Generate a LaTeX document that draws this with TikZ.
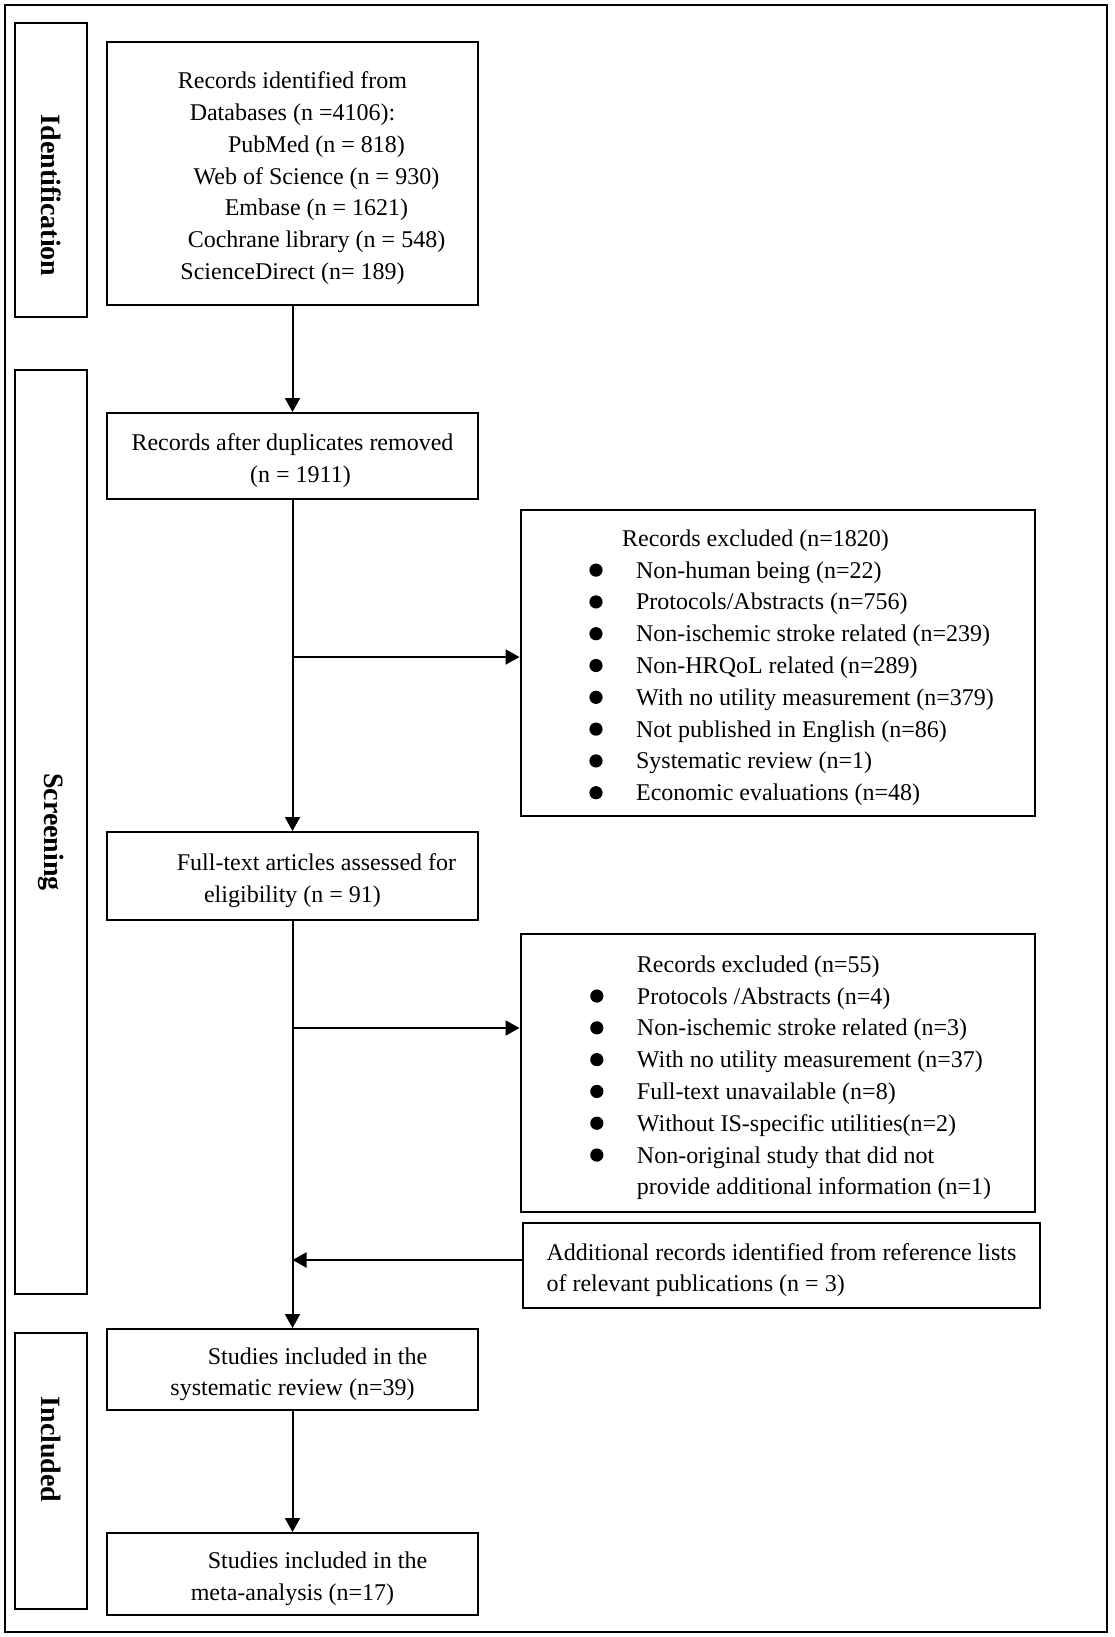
\documentclass[tikz,border=0pt]{standalone}
\usepackage{fontspec}
\setmainfont{Liberation Serif}
\usetikzlibrary{positioning,arrows.meta}

\newcommand{\bigdot}{\makebox[23.35pt][l]{\tikz[baseline=-4pt]\fill (0,0) circle (3.3pt);}}

\begin{document}
\begin{tikzpicture}[x=0.5pt,y=-0.5pt,
    box/.style={draw,line width=1pt,inner sep=0pt,text height=15.3pt,font=\fontsize{12}{15.9}\selectfont},
    side/.style={draw,line width=1pt,rotate=-90,minimum height=36pt,font=\bfseries\fontsize{14}{16}\selectfont},
    arr/.style={line width=1pt,-{Triangle[length=7pt,width=7.5pt]}}]
  \useasboundingbox (0,0) rectangle (1114,1637);
  \draw[line width=1.4pt] (5,5) rectangle (1107,1632);

  % stage labels
  \node[side,minimum width=147pt] (ident) at (51,170) {\hspace*{25.5pt}Identification};
  \node[side,minimum width=462pt] (screen) at (51,832) {Screening};
  \node[side,minimum width=138pt] (incl) at (51,1471) {Included\hspace*{21.5pt}};

  % main column
  \node[box,minimum width=185.5pt,minimum height=131.5pt] (recs) at (292.5,173.5)
    {\begin{tabular}[t]{@{}c@{}}
       Records identified from\\Databases (n =4106):\\\hspace*{24pt}PubMed (n = 818)\\
       \hspace*{24pt}Web of Science (n = 930)\\\hspace*{24pt}Embase (n = 1621)\\
       \hspace*{24pt}Cochrane library (n = 548)\\ScienceDirect (n= 189)
     \end{tabular}};
  \node[box,minimum width=185.5pt,minimum height=43pt] (dedup) at (292.5,456)
    {\begin{tabular}[t]{@{}c@{}}Records after duplicates removed\\\hspace*{8pt}(n = 1911)\end{tabular}};
  \node[box,minimum width=185.5pt,minimum height=44pt] (full) at (292.5,876)
    {\begin{tabular}[t]{@{}c@{}}\hspace*{24pt}Full-text articles assessed for\\eligibility (n = 91)\end{tabular}};
  \node[box,minimum width=185.5pt,minimum height=40.5pt] (sysrev) at (292.5,1369.5)
    {\begin{tabular}[t]{@{}c@{}}\hspace*{25pt}Studies included in the\\systematic review (n=39)\end{tabular}};
  \node[box,minimum width=185.5pt,minimum height=41pt] (meta) at (292.5,1574)
    {\begin{tabular}[t]{@{}c@{}}\hspace*{25pt}Studies included in the\\meta-analysis (n=17)\end{tabular}};

  % side column
  \node[box,minimum width=257.25pt,minimum height=153pt] (excla) at (777.75,663)
    {\begin{tabular}[t]{@{\hspace{13.9pt}}l@{}l@{}}
       & \hspace*{-7pt}Records excluded (n=1820)\\
       \bigdot & Non-human being (n=22)\\
       \bigdot & Protocols/Abstracts (n=756)\\
       \bigdot & Non-ischemic stroke related (n=239)\\
       \bigdot & Non-HRQoL related (n=289)\\
       \bigdot & With no utility measurement (n=379)\\
       \bigdot & Not published in English (n=86)\\
       \bigdot & Systematic review (n=1)\\
       \bigdot & Economic evaluations (n=48)
     \end{tabular}};
  \node[box,minimum width=257.25pt,minimum height=139pt] (exclb) at (777.75,1073)
    {\begin{tabular}[t]{@{\hspace{12.9pt}}l@{}l@{}}
       & Records excluded (n=55)\\
       \bigdot & Protocols /Abstracts (n=4)\\
       \bigdot & Non-ischemic stroke related (n=3)\\
       \bigdot & With no utility measurement (n=37)\\
       \bigdot & Full-text unavailable (n=8)\\
       \bigdot & Without IS-specific utilities(n=2)\\
       \bigdot & Non-original study that did not\\
       & provide additional information (n=1)
     \end{tabular}};
  \node[box,minimum width=258.5pt,minimum height=42.5pt] (addl) at (781.5,1265.5)
    {\begin{tabular}[t]{@{}l@{}}Additional records identified from reference lists\\of relevant publications (n = 3)\end{tabular}};

  % arrows
  \path[arr] (recs) edge (dedup)
             (dedup) edge (full)
             (full) edge (sysrev)
             (sysrev) edge (meta);
  \coordinate (splita) at (292.5,657);
  \coordinate (splitb) at (292.5,1028);
  \draw[arr] (splita) -- (splita -| excla.west);
  \draw[arr] (splitb) -- (splitb -| exclb.west);
  \draw[arr] ([yshift=2.75pt]addl.west) -- ([yshift=2.75pt]addl.west -| full.south);
\end{tikzpicture}
\end{document}
